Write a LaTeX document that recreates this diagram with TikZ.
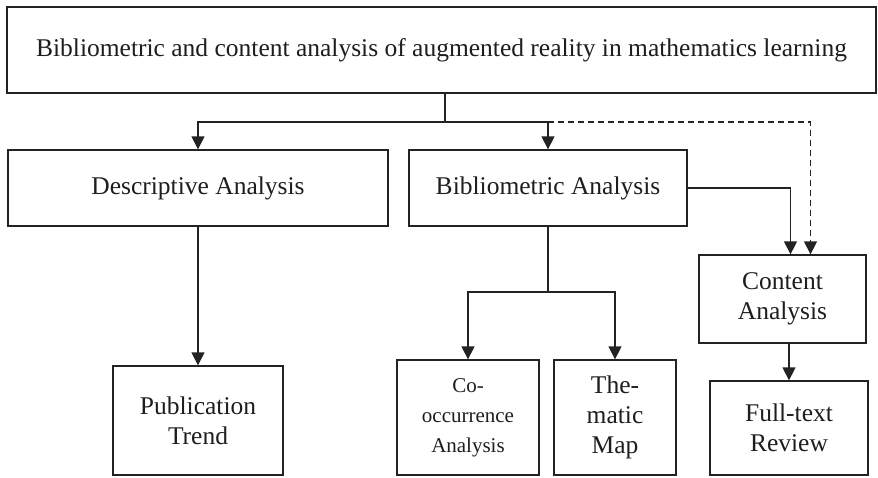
\documentclass[tikz,border=0pt]{standalone}
\usepackage{fontspec}
\setmainfont{Liberation Serif}
\usetikzlibrary{arrows.meta}
\definecolor{boxline}{RGB}{35,35,35}
\definecolor{boxtext}{RGB}{30,30,30}

\begin{document}
\begin{tikzpicture}[x=1pt, y=-1pt]
            \tikzstyle{every node} = [draw=boxline, line width=1.3pt, rectangle, align=center, inner sep=2pt, text=boxtext, font=\fontsize{25.5}{30}\selectfont]
            \tikzstyle{link} = [draw=boxline, line width=1.3pt, -{Triangle[length=13pt, width=13pt]}]
            \useasboundingbox (0,0) rectangle (878,477);

            \node[minimum width=869, minimum height=86] (goal) at (441.5,50)
                {Bibliometric and content analysis of augmented reality in mathematics learning};
            \node[minimum width=380, minimum height=76] (descriptive) at (198,188) {Descriptive Analysis};
            \node[minimum width=278, minimum height=76] (bibliometric) at (548,188) {Bibliometric Analysis};
            \node[minimum width=167, minimum height=88] (content) at (782.5,299) {Content\\Analysis};
            \node[minimum width=170, minimum height=109] (trend) at (198,420.5) {Publication\\Trend};
            \node[minimum width=142, minimum height=115, font=\fontsize{21}{30}\selectfont] (cooccurrence) at (468,417.5)
                {Co-\\occurrence\\Analysis};
            \node[minimum width=122, minimum height=115] (thematic) at (615,417.5) {The-\\matic\\Map};
            \node[minimum width=158, minimum height=94] (fulltext) at (789,428) {Full-text\\Review};

            \coordinate (split) at (445,122);
            \coordinate (branch) at (548,292);

            \draw[line width=1.3pt, draw=boxline] (goal.south -| split) -- (split);
            \draw[link] (split) -| (descriptive.north);
            \draw[link] (split) -| (bibliometric.north);
            \draw[link, dash pattern=on 6pt off 4pt] (bibliometric.north |- split) -| ([xshift=28pt]content.north);
            \draw[link] (bibliometric.east) -| ([xshift=8pt]content.north);

            \draw[link] (descriptive.south) -- (descriptive.south |- trend.north);
            \draw[line width=1.3pt, draw=boxline] (bibliometric.south) -- (branch);
            \draw[link] (branch) -| (cooccurrence.north);
            \draw[link] (branch) -| (thematic.north);
            \draw[link] (content.south -| fulltext.north) -- (fulltext.north);
        \end{tikzpicture}
\end{document}
